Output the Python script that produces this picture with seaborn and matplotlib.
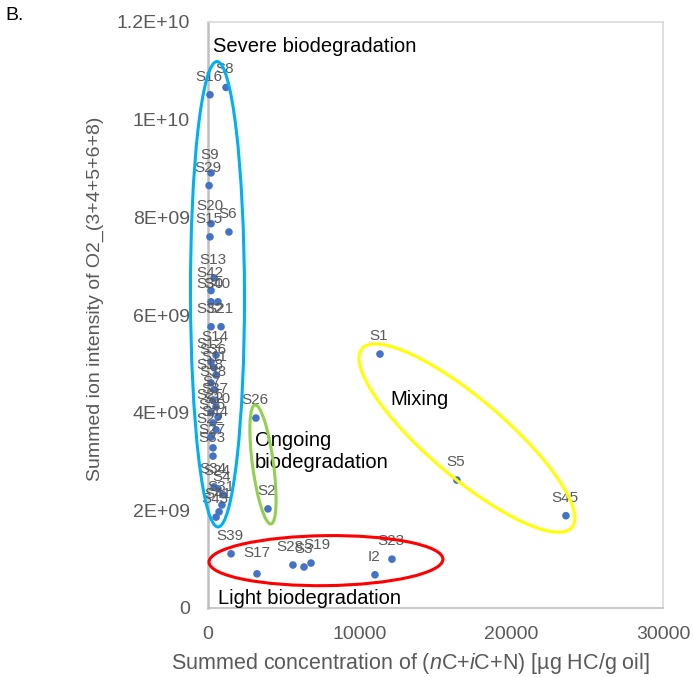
import numpy as np
import pandas as pd
import matplotlib
matplotlib.use("Agg")
import matplotlib.pyplot as plt
import seaborn as sns
from matplotlib.patches import Ellipse
from matplotlib.transforms import IdentityTransform

# ---------------- data ----------------
samples = ["S16", "S8", "S9", "S29", "S20", "S15", "S6", "S13", "S42", "S30",
           "S40", "S32", "S21", "S14", "S12", "S36", "S11", "S18", "S38", "S7",
           "S37", "S25", "S10", "S35", "S44", "S22", "S27", "S33", "S34", "S24",
           "S4", "S31", "S41", "S43",
           "S26", "S2", "S39", "S17", "S28", "S3", "S19", "I2", "S23",
           "S1", "S5", "S45"]
conc = [130, 1190, 200, 70, 200, 130, 1380, 400, 200, 200,
        660, 200, 860, 530, 200, 400, 530, 200, 400, 330,
        530, 200, 660, 330, 530, 200, 330, 330, 400, 660,
        990, 920, 730, 530,
        3160, 3955, 1520, 3230, 5600, 6330, 6790, 11010, 12130,
        11340, 16410, 23600]
o2_int = [10.51e9, 10.66e9, 8.91e9, 8.65e9, 7.87e9, 7.60e9, 7.70e9, 6.76e9, 6.50e9, 6.27e9,
          6.27e9, 5.76e9, 5.76e9, 5.18e9, 5.04e9, 4.92e9, 4.77e9, 4.61e9, 4.47e9, 4.26e9,
          4.12e9, 4.00e9, 3.91e9, 3.79e9, 3.65e9, 3.50e9, 3.28e9, 3.11e9, 2.48e9, 2.44e9,
          2.32e9, 2.11e9, 1.97e9, 1.86e9,
          3.89e9, 2.03e9, 1.11e9, 0.70e9, 0.88e9, 0.84e9, 0.92e9, 0.68e9, 1.00e9,
          5.20e9, 2.62e9, 1.89e9]

x_ticks = [0, 10000, 20000, 30000]
x_tick_labels = ["0", "10000", "20000", "30000"]
y_ticks = [0, 2e9, 4e9, 6e9, 8e9, 1e10, 1.2e10]
y_tick_labels = ["0", "2E+09", "4E+09", "6E+09", "8E+09", "1E+10", "1.2E+10"]

# group ellipses: major-axis tips in data units, minor axis in pixels
groups = {
    "severe":  dict(tip1=(590, 11.19e9), tip2=(660, 1.66e9), minor=54, color="#00B0F0"),
    "ongoing": dict(tip1=(3100, 4.16e9), tip2=(4150, 1.72e9), minor=21, color="#92D050"),
    "light":   dict(tip1=(66, 0.94e9), tip2=(15490, 1.00e9), minor=50, color="#FF0000"),
    "mixing":  dict(tip1=(10150, 5.31e9), tip2=(23990, 1.65e9), minor=78, color="#FFFF00"),
}
group_texts = [
    ("Severe biodegradation", 330, 11.5e9),
    ("Mixing", 12000, 4.26e9),
    ("Ongoing\nbiodegradation", 3100, 3.2e9),
    ("Light biodegradation", 660, 0.2e9),
]

# ---------------- style ----------------
sns.set_theme(style="white")
plt.rcParams["font.family"] = ["Liberation Sans", "DejaVu Sans"]
plt.rcParams["mathtext.fontset"] = "custom"
plt.rcParams["mathtext.rm"] = "Liberation Sans"
plt.rcParams["mathtext.it"] = "Liberation Sans:italic"

GRAY = "#595959"
fig = plt.figure(figsize=(6.94, 6.77), dpi=100)
ax = fig.add_axes([208 / 694, 1 - 608 / 677, 455 / 694, 586 / 677])

df = pd.DataFrame({"sample": samples, "conc": conc, "o2": o2_int})
sns.scatterplot(data=df, x="conc", y="o2", ax=ax, color="#4472C4", s=30,
                edgecolor="none", zorder=5, clip_on=False)

ax.set_xlim(0, 30000)
ax.set_ylim(0, 1.2e10)
ax.set_xticks(x_ticks)
ax.set_xticklabels(x_tick_labels)
ax.set_yticks(y_ticks)
ax.set_yticklabels(y_tick_labels)
ax.tick_params(axis="both", length=0, labelsize=14, labelcolor=GRAY)
ax.tick_params(axis="x", pad=13)
ax.tick_params(axis="y", pad=13)
for s in ax.spines.values():
    s.set_color("#D9D9D9")
    s.set_linewidth(1.2)
ax.spines["left"].set_color("#BFBFBF")
ax.spines["left"].set_linewidth(1.8)
ax.spines["bottom"].set_color("#BFBFBF")

ax.set_xlabel(r"Summed concentration of ($\mathit{n}$C+$\mathit{i}$C+N) [µg HC/g oil]",
              fontsize=15.5, color=GRAY)
ax.set_ylabel("Summed ion intensity of O2_(3+4+5+6+8)", fontsize=14, color=GRAY)
ax.xaxis.set_label_coords(0.446, -0.073)
ax.yaxis.set_label_coords(-0.228, 0.527)

# point labels
offsets = {"S17": (0, 15), "S28": (-2, 13), "S3": (0, 13), "S19": (4, 13)}
for name, xv, yv in zip(samples, conc, o2_int):
    dx, dy = offsets.get(name, (-1, 13))
    ax.annotate(name, (xv, yv), xytext=(dx, dy), textcoords="offset points",
                ha="center", va="center", fontsize=11, color=GRAY, zorder=6,
                annotation_clip=False)

# group ellipses
fig.canvas.draw()
for g in groups.values():
    p1 = ax.transData.transform(g["tip1"])
    p2 = ax.transData.transform(g["tip2"])
    c = (p1 + p2) / 2
    length = np.hypot(*(p2 - p1))
    ang = np.degrees(np.arctan2(p2[1] - p1[1], p2[0] - p1[0]))
    e = Ellipse(c, length, g["minor"], angle=ang, transform=IdentityTransform(),
                facecolor="none", edgecolor=g["color"], linewidth=2.2, zorder=4,
                clip_on=False)
    fig.add_artist(e)

for txt, xv, yv in group_texts:
    ax.text(xv, yv, txt, fontsize=14.5, color="black", ha="left", va="center",
            zorder=7, linespacing=1.2)

fig.text(5 / 694, 1 - 16 / 677, "B.", fontsize=14, color="black", ha="left", va="center")

fig.savefig("out.png", dpi=100)
